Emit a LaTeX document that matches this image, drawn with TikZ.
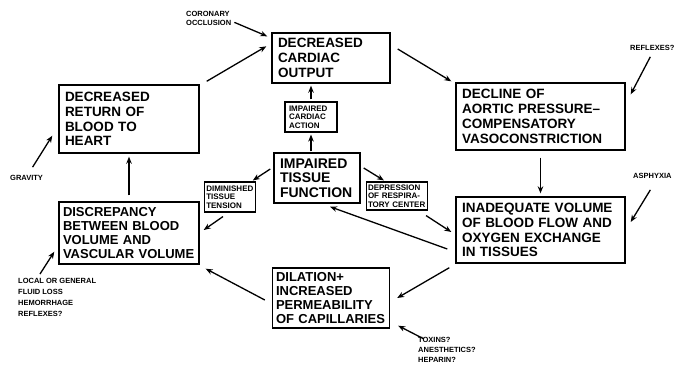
\documentclass[tikz,border=0pt]{standalone}
\usepackage{fontspec}
\setmainfont{Liberation Sans}
\usepackage{tikz}
\usetikzlibrary{arrows.meta,calc,positioning}

\tikzset{
  bigbox/.style={draw, line width=1.4pt, align=left, inner xsep=6pt, inner ysep=3pt,
    font=\bfseries\fontsize{13.5}{14.8}\selectfont},
  tightbox/.style={bigbox, font=\bfseries\fontsize{13}{13.9}\selectfont},
  smallbox/.style={draw, line width=1.1pt, align=left, inner xsep=1.5pt, inner ysep=2pt,
    font=\bfseries\fontsize{8}{8.6}\selectfont},
  cause/.style={align=left, inner sep=0pt, font=\bfseries\fontsize{7.5}{9}\selectfont},
  flow/.style={-{Stealth[length=7pt,width=5.5pt]}, line width=1.3pt},
}

\begin{document}
\begin{tikzpicture}[x=1pt,y=-1pt]
            \useasboundingbox (0,0) rectangle (678,373);

            % Main cycle
            \node[bigbox, text width=106pt, minimum height=50pt] (cardiac) at (331,58) {DECREASED\\CARDIAC\\OUTPUT};
            \node[bigbox, text width=157pt, minimum height=67pt] (aortic) at (540.5,116.5) {DECLINE OF\\AORTIC PRESSURE--\\COMPENSATORY\\VASOCONSTRICTION};
            \node[bigbox, text width=157pt, minimum height=66pt] (inadequate) at (540.5,230) {INADEQUATE VOLUME\\OF BLOOD FLOW AND\\OXYGEN EXCHANGE\\IN TISSUES};
            \node[tightbox, inner xsep=3.5pt, text width=110pt, minimum height=60pt] (dilation) at (331,298) {DILATION+\\INCREASED\\PERMEABILITY\\OF CAPILLARIES};
            \node[tightbox, inner xsep=4pt, text width=132pt, minimum height=62pt] (dis) at (129,233) {DISCREPANCY\\BETWEEN BLOOD\\VOLUME AND\\VASCULAR VOLUME};
            \node[bigbox, text width=128pt, minimum height=68pt] (ret) at (129,119) {DECREASED\\RETURN OF\\BLOOD TO\\HEART};

            % Centre
            \node[bigbox, font=\bfseries\fontsize{14}{14.5}\selectfont, text width=74pt, minimum height=50pt] (itf) at (317,178) {IMPAIRED\\TISSUE\\FUNCTION};
            \node[smallbox, inner xsep=4pt, text width=44pt, minimum height=30pt] (ica) at (311,117) {IMPAIRED\\CARDIAC\\ACTION};
            \node[smallbox, text width=47.5pt, minimum height=30pt] (dtt) at (230,197) {DIMINISHED\\TISSUE\\TENSION};
            \node[smallbox, text width=58pt, minimum height=28pt] (drc) at (397,196) {DEPRESSION\\OF RESPIRA-\\TORY CENTER};

            % Causes
            \node[cause, anchor=north west] (occl) at (186,11) {CORONARY\\OCCLUSION};
            \node[cause, anchor=west] (refl) at (630,48) {REFLEXES?};
            \node[cause, anchor=west] (asph) at (633,176) {ASPHYXIA};
            \node[cause, anchor=west] (grav) at (10,178) {GRAVITY};
            \node[cause, anchor=north west, font=\bfseries\fontsize{7.5}{11}\selectfont] (loss) at (18,278) {LOCAL OR GENERAL\\FLUID LOSS\\HEMORRHAGE\\REFLEXES?};
            \node[cause, anchor=north west, font=\bfseries\fontsize{7.5}{10}\selectfont] (drugs) at (418,337) {TOXINS?\\ANESTHETICS?\\HEPARIN?};

            % Cycle arrows
            \draw[flow] ($(ret.north east)+(7,-3)$) -- ($(cardiac.north west)+(-5,14)$);
            \draw[flow] ($(cardiac.east)+(7,-9)$) -- ($(aortic.north west)+(-4,-1)$);
            \draw[flow, shorten <=7pt, shorten >=3pt] (aortic) -- (inadequate);
            \draw[flow] ($(inadequate.south west)+(-6,4)$) -- ($(dilation.east)+(7,0)$);
            \draw[flow] ($(dilation.west)+(-7,2)$) -- ($(dis.south east)+(6,4)$);
            \draw[flow, shorten <=6pt, shorten >=3pt] (dis) -- (ret);

            % Cause arrows
            \draw[flow] ($(occl.east)+(3,4)$) -- ($(cardiac.north west)+(-4,4)$);
            \draw[flow] ($(refl.south)+(-2,6)$) -- ($(aortic.north east)+(5,12)$);
            \draw[flow] ($(asph.south)+(-2,11)$) -- ($(inadequate.east)+(5,-8)$);
            \draw[flow] ($(drugs.north west)+(6,2)$) -- ($(dilation.south east)+(8,-3)$);
            \draw[flow] ($(loss.north west)+(22,-4)$) -- ($(dis.south west)+(-4,-13)$);
            \draw[flow] ($(grav.north)+(6,-8)$) -- ($(ret.south west)+(-6,-18)$);

            % Inner arrows
            \draw[flow, shorten <=1pt, shorten >=2pt] (itf.north -| ica) -- (ica.south);
            \draw[flow, shorten <=2pt, shorten >=2pt] (ica.north) -- (ica.north |- cardiac.south);
            \draw[flow] ($(itf.west)+(-3,-9)$) -- ($(dtt.north east)+(-3,-1)$);
            \draw[flow] ($(dtt.south)+(-7,4)$) -- ($(dis.east)+(4,-3)$);
            \draw[flow] ($(itf.east)+(3,-10)$) -- ($(drc.north west)+(18,-1)$);
            \draw[flow] ($(drc.south east)+(-2,5)$) -- ($(inadequate.west)+(-4,2)$);
            \draw[flow] ($(inadequate.west)+(-8,19)$) -- ($(itf.south)+(13,3)$);
        \end{tikzpicture}
\end{document}
